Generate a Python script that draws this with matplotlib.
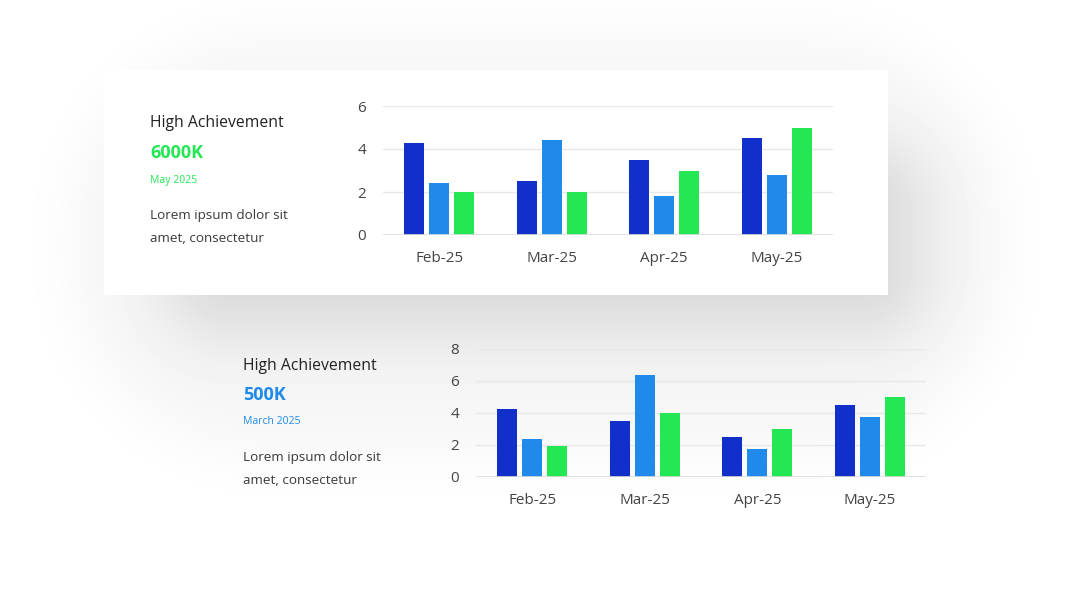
import matplotlib.pyplot as plt
import matplotlib.patches as mpatches
import numpy as np

# data
MONTHS = ["Feb-25", "Mar-25", "Apr-25", "May-25"]

TOP_SERIES_A = [4.3, 2.5, 3.5, 4.5]
TOP_SERIES_B = [2.4, 4.4, 1.8, 2.8]
TOP_SERIES_C = [2.0, 2.0, 3.0, 5.0]
TOP_YTICKS = [0, 2, 4, 6]

BOTTOM_SERIES_A = [4.25, 3.5, 2.5, 4.5]
BOTTOM_SERIES_B = [2.4, 6.4, 1.75, 3.75]
BOTTOM_SERIES_C = [1.95, 4.0, 3.0, 5.0]
BOTTOM_YTICKS = [0, 2, 4, 6, 8]

DARK_BLUE = "#1030c9"
LIGHT_BLUE = "#1f8ae9"
GREEN = "#23e853"
TEXT_DARK = "#222222"
TEXT_MID = "#3a3a3a"
GRID = "#e8e8e8"

W, H = 1080, 608
plt.rcParams["font.family"] = ["Open Sans", "DejaVu Sans"]

fig = plt.figure(figsize=(W / 100, H / 100), dpi=100)


def px_axes(x0, y0, x1, y1, **kw):
    # axes placed by pixel box (top-left origin)
    return fig.add_axes([x0 / W, 1 - y1 / H, (x1 - x0) / W, (y1 - y0) / H], **kw)


# soft shadow: rounded boxes with fuzzy edges
def soft_box(x0, y0, x1, y1, r, s):
    xx, yy = np.meshgrid(np.arange(W) + 0.5, np.arange(H) + 0.5)
    cx, cy = (x0 + x1) / 2, (y0 + y1) / 2
    hx, hy = (x1 - x0) / 2 - r, (y1 - y0) / 2 - r
    qx = np.abs(xx - cx) - hx
    qy = np.abs(yy - cy) - hy
    d = np.hypot(np.maximum(qx, 0), np.maximum(qy, 0)) + np.minimum(np.maximum(qx, qy), 0) - r
    return 0.5 * (1 - np.tanh(d / s))


shadow = (1 - 0.03 * soft_box(70, 30, 1000, 460, 200, 35)
          - 0.13 * soft_box(170, 150, 920, 330, 60, 50))
bg = px_axes(0, 0, W, H)
bg.imshow(shadow, cmap="gray", vmin=0, vmax=1, extent=(0, W, H, 0), aspect="auto")
bg.add_patch(mpatches.Rectangle((104, 70), 784, 225, facecolor="white", edgecolor="none"))
bg.set_xlim(0, W)
bg.set_ylim(H, 0)
bg.axis("off")


def bar_chart(ax, a, b, c, yticks):
    x = np.arange(len(MONTHS))
    step, width = 0.222, 0.178
    for off, vals, col in [(-step, a, DARK_BLUE), (0, b, LIGHT_BLUE), (step, c, GREEN)]:
        ax.bar(x + off, vals, width=width, color=col, zorder=3)
    ax.set_xlim(-0.5, len(MONTHS) - 0.5)
    ax.set_ylim(yticks[0], yticks[-1])
    ax.set_yticks(yticks)
    ax.set_xticks(x)
    ax.set_xticklabels(MONTHS)
    for t in yticks[1:]:
        ax.axhline(t, color=GRID, lw=1, zorder=1)
    ax.axhline(0, color="#dcdcdc", lw=1.2, zorder=4)
    ax.patch.set_alpha(0)
    for sp in ax.spines.values():
        sp.set_visible(False)
    ax.tick_params(axis="both", length=0, labelsize=11, colors="#444444")
    ax.tick_params(axis="x", pad=11.5)
    ax.tick_params(axis="y", pad=12)


top = px_axes(383, 106, 833, 235)
bar_chart(top, TOP_SERIES_A, TOP_SERIES_B, TOP_SERIES_C, TOP_YTICKS)

bottom = px_axes(476, 349, 926, 477)
bar_chart(bottom, BOTTOM_SERIES_A, BOTTOM_SERIES_B, BOTTOM_SERIES_C, BOTTOM_YTICKS)


def side_text(x, y0, value, date, colour, gaps):
    def put(yy, s, **kw):
        fig.text(x / W, 1 - yy / H, s, va="center", ha="left", **kw)

    put(y0, "High Achievement", fontsize=11.3, color=TEXT_DARK)
    put(y0 + gaps[0], value, fontsize=13, fontweight="bold", color=colour)
    put(y0 + gaps[1], date, fontsize=7.5, color=colour)
    put(y0 + gaps[2], "Lorem ipsum dolor sit", fontsize=9.7, color=TEXT_MID)
    put(y0 + gaps[3], "amet, consectetur", fontsize=9.7, color=TEXT_MID)


side_text(150, 123, "6000K", "May 2025", GREEN, (30, 57, 92, 115))
side_text(243, 366, "500K", "March 2025", LIGHT_BLUE, (29, 56, 92, 114))

fig.savefig("out.png", dpi=100)
